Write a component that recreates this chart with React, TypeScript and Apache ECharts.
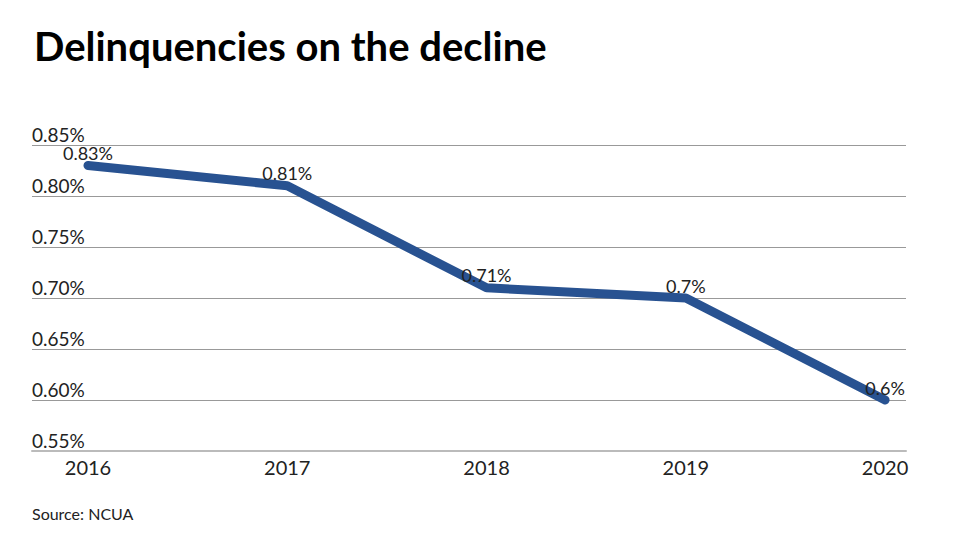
import React, { useEffect, useRef } from "react";
import * as echarts from "echarts";

const years = [2016, 2017, 2018, 2019, 2020];
const rates = [0.83, 0.81, 0.71, 0.7, 0.6];
const pointLabels = ["0.83%", "0.81%", "0.71%", "0.7%", "0.6%"];
const yTicks = [0.55, 0.6, 0.65, 0.7, 0.75, 0.8, 0.85];

export default function App() {
  const ref = useRef<HTMLDivElement>(null);
  useEffect(() => {
    if (!ref.current) return;
    const chart = echarts.init(ref.current, null, { renderer: "svg" });
    const font = "Lato, 'Noto Sans', sans-serif";
    chart.setOption({
      animation: false,
      backgroundColor: "#ffffff",
      textStyle: { fontFamily: font },
      title: [
        {
          text: "Delinquencies on the decline",
          left: 34,
          top: 26,
          padding: 0,
          textStyle: { fontFamily: font, fontSize: 40, fontWeight: "bold", color: "#000000" },
        },
        {
          text: "Source: NCUA",
          left: 32,
          top: 505,
          padding: 0,
          textStyle: { fontFamily: font, fontSize: 16, fontWeight: "normal", color: "#222222" },
        },
      ],
      grid: { left: 32, right: 72, top: 145, bottom: 99 },
      xAxis: {
        type: "value",
        min: 2015.719,
        max: 2020.105,
        axisLine: { show: true, lineStyle: { color: "#bbbbbb", width: 2 } },
        axisTick: { show: false },
        splitLine: { show: false },
        axisLabel: {
          customValues: years,
          formatter: (v: number) => String(Math.round(v)),
          fontSize: 20,
          color: "#222222",
          margin: 6,
          fontFamily: font,
        },
      },
      yAxis: {
        type: "value",
        min: yTicks[0],
        max: yTicks[yTicks.length - 1],
        interval: 0.05,
        axisLine: { show: false },
        axisTick: { show: false },
        splitLine: { show: true, lineStyle: { color: "#999999", width: 1 } },
        axisLabel: {
          inside: true,
          margin: 0,
          verticalAlign: "bottom",
          lineHeight: 14,
          padding: [0, 0, 4, 0],
          fontSize: 19,
          color: "#222222",
          fontFamily: font,
          formatter: (v: number) => v.toFixed(2) + "%",
        },
      },
      series: [
        {
          type: "line",
          data: years.map((y, i) => [y, rates[i]]),
          symbol: "circle",
          symbolSize: 1,
          lineStyle: { color: "#285291", width: 9, cap: "round", join: "round" },
          itemStyle: { color: "#285291" },
          label: {
            show: true,
            position: "top",
            distance: 6,
            lineHeight: 12,
            fontSize: 18,
            color: "#222222",
            fontFamily: font,
            formatter: (p: any) => pointLabels[p.dataIndex],
          },
        },
      ],
    });
    return () => chart.dispose();
  }, []);
  return <div ref={ref} style={{ width: 978, height: 550, position: "absolute", left: 0, top: 0 }} />;
}
